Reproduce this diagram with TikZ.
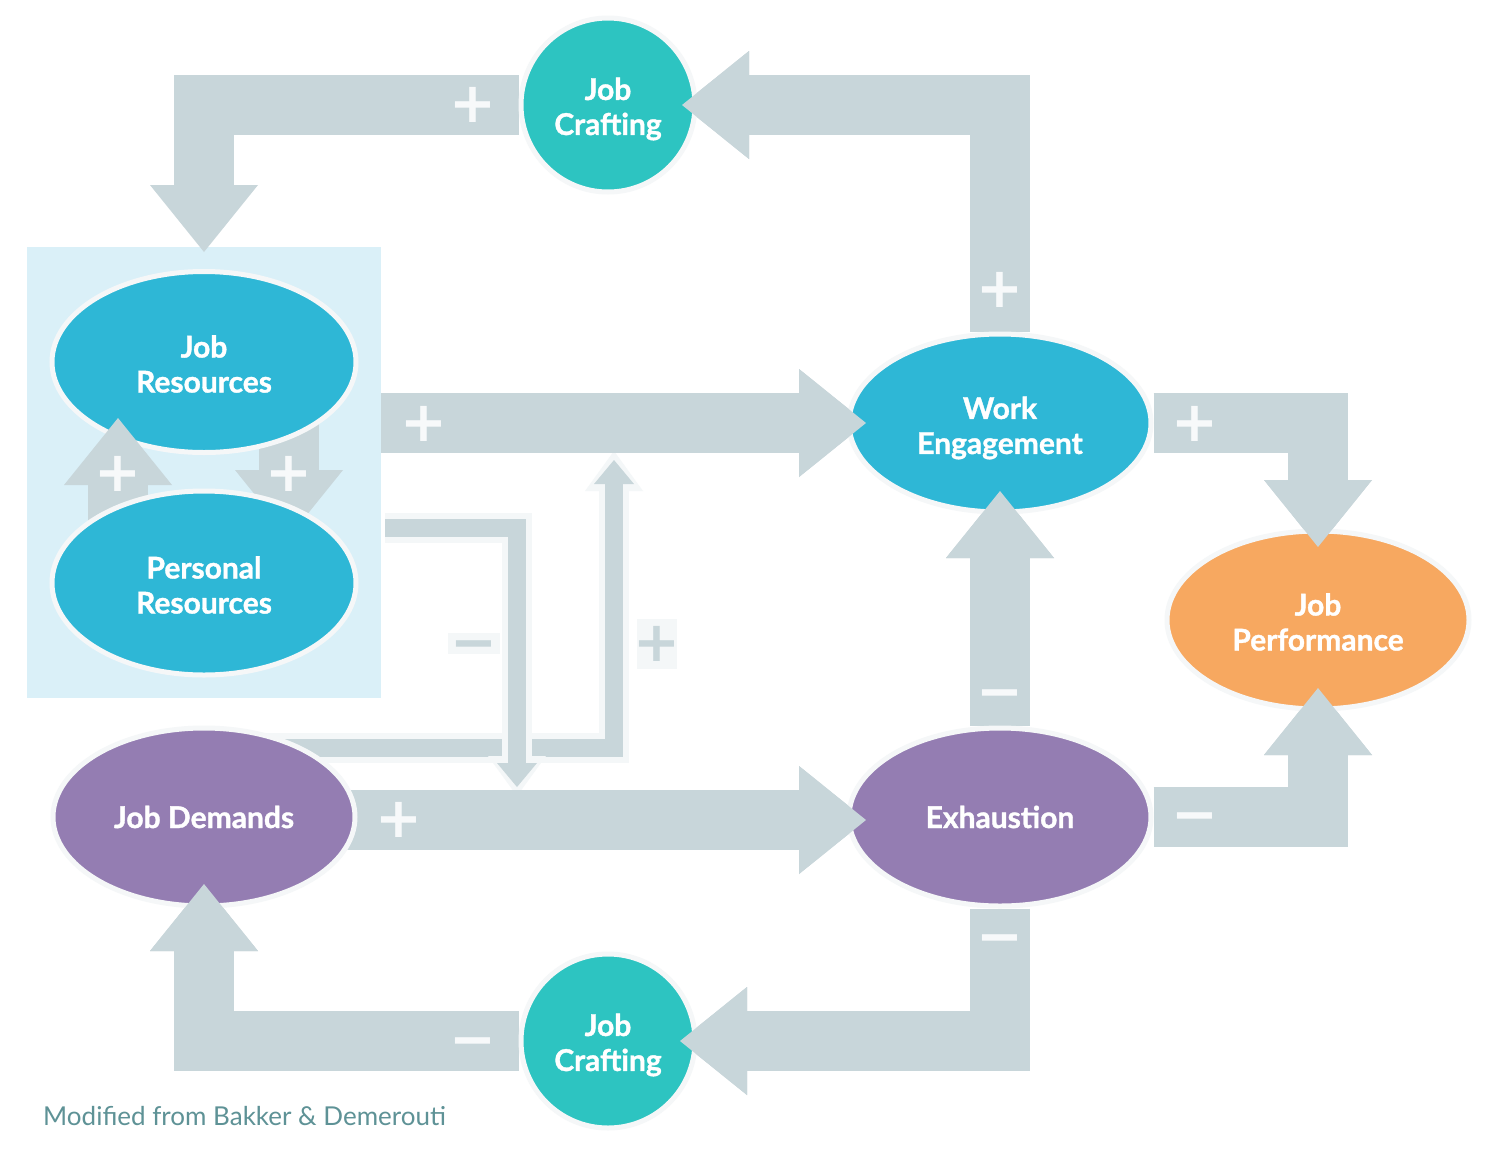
\documentclass[tikz,border=0pt]{standalone}
\usepackage{fontspec}
\setmainfont{Lato}[BoldFont={Lato Bold},BoldFeatures={FakeBold=1.2}]
\newfontfamily\signfont{DejaVu Sans}
\usetikzlibrary{shapes.geometric,arrows.meta,calc}
\definecolor{boxblue}{HTML}{DAF0F8}
\definecolor{agray}{HTML}{C8D6DA}
\definecolor{halo}{HTML}{F4F7F8}
\definecolor{nborder}{HTML}{F5F7F8}
\definecolor{nblue}{HTML}{2EB7D6}
\definecolor{nteal}{HTML}{2DC4C1}
\definecolor{npurple}{HTML}{947DB2}
\definecolor{norange}{HTML}{F7A860}
\definecolor{signwhite}{HTML}{F7F9FA}
\definecolor{capc}{HTML}{5E9296}
\newcommand\ndfont{\bfseries\fontsize{30}{35}\selectfont}
\newcommand\mns{\vphantom{+}−}
\newcommand\lowr[2]{\raisebox{-#1}[\height][\depth]{#2}}
\pgfdeclarelayer{back}
\pgfdeclarelayer{bg}
\pgfdeclarelayer{mid}
\pgfdeclarelayer{top}
\pgfsetlayers{back,bg,main,mid,top}
\tikzset{
  rbox/.style={rectangle, fill=boxblue, draw=none, inner sep=0pt, minimum width=354pt, minimum height=451pt},
  ellnode/.style={ellipse, draw=nborder, line width=5pt, inner sep=0pt, minimum width=302pt, minimum height=178pt, text=white, align=center, font=\ndfont},
  circnode/.style={circle, draw=nborder, line width=5pt, inner sep=0pt, minimum size=174pt, fill=nteal, text=white, align=center, font=\ndfont},
  band/.style={draw=agray, line width=60pt, line join=miter, -{Triangle[length=67pt,width=108pt,line width=0pt]}},
  thinhalo/.style={draw=halo, line width=30pt, line join=miter, -{Triangle[length=40pt,width=58pt,line width=0pt]}},
  thinarr/.style={draw=agray, line width=18pt, line join=miter, -{Triangle[length=24pt,width=40pt,line width=0pt]}},
  sign/.style={text=signwhite, font=\signfont\bfseries\fontsize{56}{56}\selectfont, inner sep=0pt},
  graysign/.style={sign, text=agray},
  halobox/.style={rectangle, fill=halo, draw=none, inner sep=0pt},
}
\begin{document}
\begin{tikzpicture}[x=1pt,y=-1pt]
\begin{pgfonlayer}{back}
\fill[white] (0,0) rectangle (1500,1160);
\node[rbox] (box) at (204,472.5) {};
\end{pgfonlayer}
\useasboundingbox (0,0) rectangle (1500,1160);

% nodes
\node[ellnode, fill=nblue, minimum width=304pt, minimum height=181pt] (jr) at (204,362) {\lowr{2pt}{Job}\\\lowr{2pt}{Resources}};
\node[ellnode, fill=nblue] (we) at (1000,423) {\lowr{5pt}{Work}\\\lowr{5pt}{Engagement}};
\node[ellnode, fill=norange] (jp) at (1318,620) {\lowr{2pt}{Job}\\\lowr{2pt}{Performance}};
\node[ellnode, fill=npurple] (ex) at (1000,817) {Exhaustion};
\node[ellnode, fill=npurple] (jd) at (204,817) {Job Demands};
\node[circnode] (jc1) at (608,105) {\lowr{4pt}{Job}\\\lowr{4pt}{Crafting}};
\node[circnode] (jc2) at (608,1041) {\lowr{4pt}{Job}\\\lowr{4pt}{Crafting}};
\begin{pgfonlayer}{top}
\node[ellnode, fill=nblue, minimum width=304pt, minimum height=184pt] (pr) at (204,583) {\lowr{2pt}{Personal}\\\lowr{2pt}{Resources}};
\end{pgfonlayer}

% free ends of connectors
\coordinate (t1) at (614,460);
\coordinate (t1h) at (614,451);
\coordinate (t2) at (517,787);
\coordinate (t2h) at (517,796);

% thin arrows
\begin{pgfonlayer}{back}
\draw[thinhalo] ($(jd)+(0,-69)$) -- (t1h |- 0,748) -- (t1h);
\draw[thinarr] ($(jd)+(0,-69)$) -- (t1 |- 0,748) -- (t1);
\draw[thinhalo] ($(box.east)+(4,55.5)$) -- (t2h |- 0,528) -- (t2h);
\draw[thinarr] ($(box.east)+(4,55.5)$) -- (t2 |- 0,528) -- (t2);
\end{pgfonlayer}

% block arrows
\begin{pgfonlayer}{bg}
\draw[band] (we) -- (we |- jc1) -- ($(jc1)+(74,0)$);
\draw[band] (jc1) -- (jr |- jc1) -- ($(jr)+(0,-110)$);
\draw[band] (box.east |- we) -- ($(we)+(-134,0)$);
\draw[band] (we) -- (jp |- we) -- ($(jp)+(0,-73)$);
\draw[band] (ex) -- (jp |- ex) -- ($(jp)+(0,68)$);
\draw[band] (ex) -- ($(we)+(0,68)$);
\draw[band] ($(jd)+(0,3)$) -- ($(ex)+(-134,3)$);
\draw[band] (ex) -- (ex |- jc2) -- ($(jc2)+(72,0)$);
\draw[band] (jc2) -- (jd |- jc2) -- ($(jd)+(0,67)$);
\draw[band] ($(jr)+(85,0)$) -- ($(pr)+(85,-46)$);
\end{pgfonlayer}
\begin{pgfonlayer}{mid}
\draw[band] ($(pr)+(-86,0)$) -- ($(jr)+(-86,56)$);
\end{pgfonlayer}

% arrow heads over target nodes
\begin{pgfonlayer}{top}
\draw[band] ($(jc1)+(154,0)$) -- ($(jc1)+(74,0)$);
\draw[band] ($(we)+(-214,0)$) -- ($(we)+(-134,0)$);
\draw[band] ($(jp)+(0,-153)$) -- ($(jp)+(0,-73)$);
\draw[band] ($(jp)+(0,148)$) -- ($(jp)+(0,68)$);
\draw[band] ($(we)+(0,148)$) -- ($(we)+(0,68)$);
\draw[band] ($(ex)+(-214,3)$) -- ($(ex)+(-134,3)$);
\draw[band] ($(jc2)+(152,0)$) -- ($(jc2)+(72,0)$);
\draw[band] ($(jd)+(0,147)$) -- ($(jd)+(0,67)$);

% signs
\node[sign] (s1) at (473,105) {+};
\node[sign] (s2) at (1000,290) {+};
\node[sign] (s3) at (424,424) {+};
\node[sign] (s4) at (1195,424) {+};
\node[sign] (s5) at (1195,816) {\mns};
\node[sign] (s6) at (1000,693) {\mns};
\node[sign] (s7) at (399,820) {+};
\node[sign] (s8) at (1000,938) {\mns};
\node[sign] (s9) at (473,1041) {\mns};
\node[sign] (s10) at (118,474) {+};
\node[sign] (s11) at (289,474) {+};
\node[halobox, minimum width=52pt, minimum height=21pt] (h12) at (474,643.5) {};
\node[graysign] (s12) at (474,643.5) {\mns};
\node[halobox, minimum width=40pt, minimum height=50pt] (h13) at (657,644) {};
\node[graysign] (s13) at (657,644) {+};

\node[anchor=base west, text=capc, font=\fontsize{26}{30}\selectfont, inner sep=0pt] (cap) at (43,1125) {Modified from Bakker \& Demerouti};
\end{pgfonlayer}
\end{tikzpicture}
\end{document}
